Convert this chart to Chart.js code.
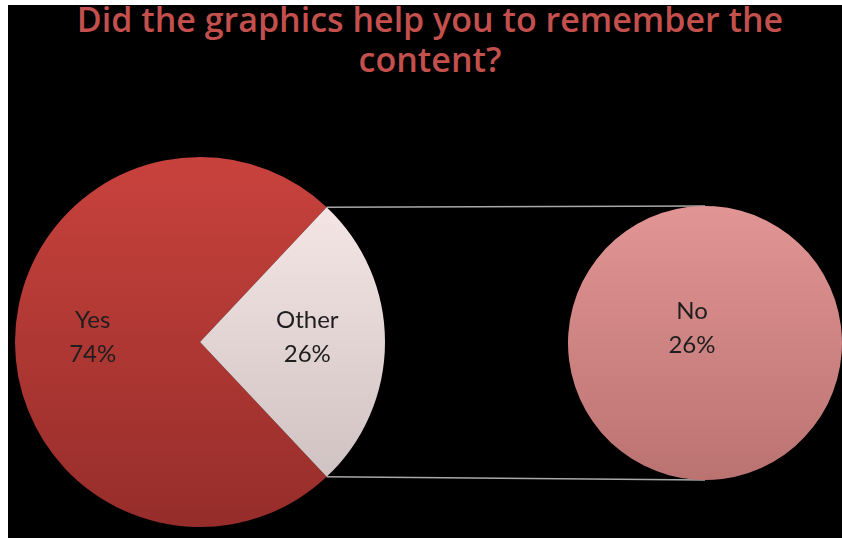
<!DOCTYPE html>
<html>
<head>
<meta charset="utf-8">
<script src="https://cdn.jsdelivr.net/npm/chart.js@4.4.1/dist/chart.umd.min.js"></script>
<style>
  body { margin: 0; background: #fff; }
  #frame { position: absolute; left: 8px; top: 5px; width: 834px; height: 533px; background: #000; overflow: hidden; }
  #frame canvas { position: absolute; left: 0; top: 0; }
  #title {
    position: absolute; left: 10px; top: -6px; width: 824px;
    text-align: center; color: #c4504d;
    font: 600 34px/40px "Open Sans", sans-serif;
  }
</style>
</head>
<body>
<div id="frame">
  <div id="title">Did the graphics help you to remember the<br>content?</div>
  <canvas id="mainPie" width="834" height="533"></canvas>
  <canvas id="splitPie" width="834" height="533"></canvas>
</div>
<script>
// data
const mainLabels = ['Yes', 'Other'];
const mainValues = [74, 26];
const splitLabels = ['No'];
const splitValues = [26];

const grandTotal = mainValues[0] + splitValues.reduce((a, b) => a + b, 0);
const otherIndex = 1;

// per-slice gradient over the chart area, top -> bottom
function vGradient(stops) {
    return function (context) {
        const [top, bottom] = stops[context.dataIndex];
        const area = context.chart.chartArea;
        if (!area) return top;
        const g = context.chart.ctx.createLinearGradient(0, area.top, 0, area.bottom);
        g.addColorStop(0, top);
        g.addColorStop(1, bottom);
        return g;
    };
}

// "Label / NN%" text inside each slice
const sliceLabels = {
    id: 'sliceLabels',
    afterDatasetsDraw(chart, args, opts) {
        const ctx = chart.ctx;
        const meta = chart.getDatasetMeta(0);
        const values = chart.data.datasets[0].data;
        ctx.save();
        ctx.font = '24px Lato, sans-serif';
        ctx.fillStyle = '#1e1e1e';
        ctx.textAlign = 'center';
        ctx.textBaseline = 'middle';
        meta.data.forEach((arc, i) => {
            const p = arc.getProps(['x', 'y', 'startAngle', 'endAngle', 'outerRadius']);
            const mid = (p.startAngle + p.endAngle) / 2;
            const r = p.outerRadius * opts.distance;
            const x = p.x + Math.cos(mid) * r;
            const y = p.y + Math.sin(mid) * r + opts.shiftY;
            const pct = Math.round(values[i] / grandTotal * 100) + '%';
            ctx.fillText(chart.data.labels[i], x, y - 17);
            ctx.fillText(pct, x, y + 17);
        });
        ctx.restore();
    }
};

const mainChart = new Chart(document.getElementById('mainPie'), {
    type: 'pie',
    data: {
        labels: mainLabels,
        datasets: [{
            data: mainValues,
            backgroundColor: vGradient([
                ['#c8423d', '#962d2a'],
                ['#fbeceb', '#c9bcbc']
            ]),
            borderWidth: 0,
            hoverOffset: 0
        }]
    },
    options: {
        responsive: false,
        animation: false,
        rotation: 90 + mainValues[otherIndex] / grandTotal * 180,
        layout: { padding: { left: 7, top: 152, right: 457, bottom: 11 } },
        events: [],
        plugins: {
            legend: { display: false },
            tooltip: { enabled: false },
            sliceLabels: { distance: 0.58, shiftY: -5 }
        }
    },
    plugins: [sliceLabels]
});

// thin lines from the "Other" slice to the split pie
const connectors = {
    id: 'connectors',
    beforeDatasetsDraw(chart) {
        const other = mainChart.getDatasetMeta(0).data[otherIndex];
        const o = other.getProps(['x', 'y', 'startAngle', 'endAngle', 'outerRadius']);
        const s = chart.getDatasetMeta(0).data[0].getProps(['x', 'y', 'outerRadius']);
        const ctx = chart.ctx;
        ctx.save();
        ctx.strokeStyle = '#a8a8a8';
        ctx.lineWidth = 1.5;
        ctx.beginPath();
        ctx.moveTo(o.x + Math.cos(o.startAngle) * o.outerRadius, o.y + Math.sin(o.startAngle) * o.outerRadius);
        ctx.lineTo(s.x, s.y - s.outerRadius);
        ctx.moveTo(o.x + Math.cos(o.endAngle) * o.outerRadius, o.y + Math.sin(o.endAngle) * o.outerRadius);
        ctx.lineTo(s.x, s.y + s.outerRadius);
        ctx.stroke();
        ctx.restore();
    }
};

const splitChart = new Chart(document.getElementById('splitPie'), {
    type: 'pie',
    data: {
        labels: splitLabels,
        datasets: [{
            data: splitValues,
            backgroundColor: vGradient([['#e19594', '#bb7372']]),
            borderWidth: 0,
            hoverOffset: 0
        }]
    },
    options: {
        responsive: false,
        animation: false,
        rotation: 139,
        layout: { padding: { left: 560, top: 201, right: 0, bottom: 58 } },
        events: [],
        plugins: {
            legend: { display: false },
            tooltip: { enabled: false },
            sliceLabels: { distance: 0.145, shiftY: 0 }
        }
    },
    plugins: [connectors, sliceLabels]
});
</script>
</body>
</html>
